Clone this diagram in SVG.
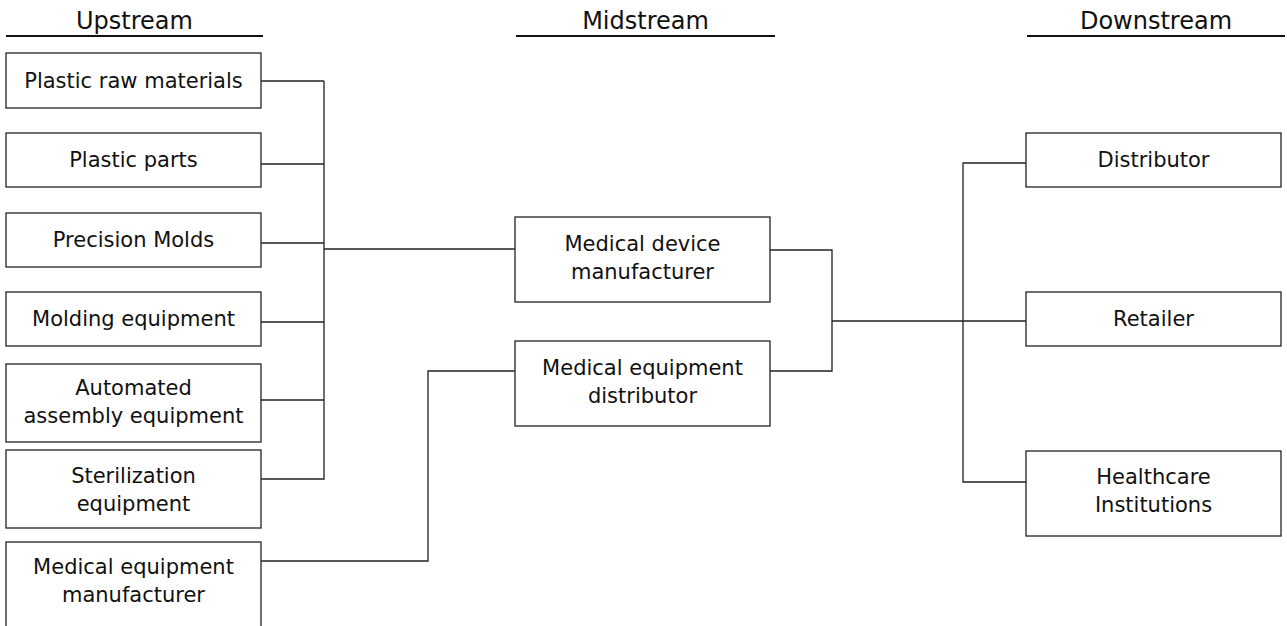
<svg xmlns="http://www.w3.org/2000/svg" width="1287" height="626" viewBox="0 0 1287 626">
  <style>
    text { font-family: "DejaVu Sans", "Liberation Sans", sans-serif; font-size: 21px; fill: #111; text-anchor: middle; }
    .title { font-size: 24px; }
    .box { fill: #fff; stroke: #222; stroke-width: 1.3; }
    .head { stroke: #111; stroke-width: 2; }
    .wire { fill: none; stroke: #222; stroke-width: 1.3; }
  </style>
  <rect width="1287" height="626" fill="#fff"/>

  <!-- column headers -->
  <g id="hdr-upstream">
    <text class="title" x="134.5" y="28.5">Upstream</text>
    <line class="head" x1="6" y1="36" x2="263" y2="36"/>
  </g>
  <g id="hdr-midstream">
    <text class="title" x="645.5" y="28.5">Midstream</text>
    <line class="head" x1="516" y1="36" x2="775" y2="36"/>
  </g>
  <g id="hdr-downstream">
    <text class="title" x="1156" y="28.5">Downstream</text>
    <line class="head" x1="1027" y1="36" x2="1285" y2="36"/>
  </g>

  <!-- connectors -->
  <g id="connectors">
    <path class="wire" d="M261 81H324M261 164H324M261 243H324M261 322H324M261 400H324M261 479H324V81M324 249H515"/>
    <path class="wire" d="M261 561H428V371H515"/>
    <path class="wire" d="M770 250H832V371H770M832 321H1026"/>
    <path class="wire" d="M1026 163H963V482H1026"/>
  </g>

  <!-- upstream -->
  <g id="plastic-raw-materials">
    <rect class="box" x="6" y="53" width="255" height="55"/>
    <text x="133.5" y="87.5">Plastic raw materials</text>
  </g>
  <g id="plastic-parts">
    <rect class="box" x="6" y="133" width="255" height="54"/>
    <text x="133.5" y="167">Plastic parts</text>
  </g>
  <g id="precision-molds">
    <rect class="box" x="6" y="213" width="255" height="54"/>
    <text x="133.5" y="247">Precision Molds</text>
  </g>
  <g id="molding-equipment">
    <rect class="box" x="6" y="292" width="255" height="54"/>
    <text x="133.5" y="326">Molding equipment</text>
  </g>
  <g id="automated-assembly">
    <rect class="box" x="6" y="364" width="255" height="78"/>
    <text x="133.5" y="395">Automated</text>
    <text x="133.5" y="423">assembly equipment</text>
  </g>
  <g id="sterilization-equipment">
    <rect class="box" x="6" y="450" width="255" height="78"/>
    <text x="133.5" y="483">Sterilization</text>
    <text x="133.5" y="511">equipment</text>
  </g>
  <g id="medical-equipment-manufacturer">
    <rect class="box" x="6" y="542" width="255" height="90"/>
    <text x="133.5" y="574">Medical equipment</text>
    <text x="133.5" y="602">manufacturer</text>
  </g>

  <!-- midstream -->
  <g id="medical-device-manufacturer">
    <rect class="box" x="515" y="217" width="255" height="85"/>
    <text x="642.5" y="251">Medical device</text>
    <text x="642.5" y="279">manufacturer</text>
  </g>
  <g id="medical-equipment-distributor">
    <rect class="box" x="515" y="341" width="255" height="85"/>
    <text x="642.5" y="375">Medical equipment</text>
    <text x="642.5" y="403">distributor</text>
  </g>

  <!-- downstream -->
  <g id="distributor">
    <rect class="box" x="1026" y="133" width="255" height="54"/>
    <text x="1153.5" y="167">Distributor</text>
  </g>
  <g id="retailer">
    <rect class="box" x="1026" y="292" width="255" height="54"/>
    <text x="1153.5" y="326">Retailer</text>
  </g>
  <g id="healthcare-institutions">
    <rect class="box" x="1026" y="451" width="255" height="85"/>
    <text x="1153.5" y="484">Healthcare</text>
    <text x="1153.5" y="512">Institutions</text>
  </g>
</svg>
